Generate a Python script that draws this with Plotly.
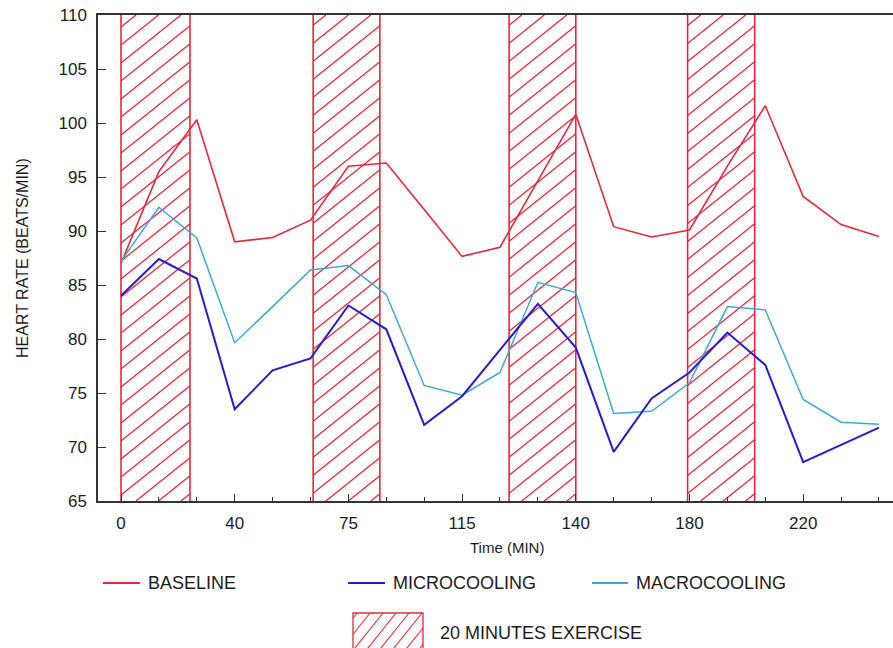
import plotly.graph_objects as go

# Measurement index along the time axis (one tick per reading)
idx = list(range(21))

# Labelled positions on the time axis
tick_idx = [0, 3, 6, 9, 12, 15, 18]
tick_text = ["0", "40", "75", "115", "140", "180", "220"]

# Heart rate (beats/min)
baseline = [87.0, 95.5, 100.3, 89.0, 89.4, 91.0, 96.0, 96.3, 92.0, 87.65, 88.5,
            94.6, 100.8, 90.4, 89.45, 90.1, 96.0, 101.6, 93.2, 90.6, 89.5]
microcooling = [84.0, 87.4, 85.6, 73.5, 77.1, 78.2, 83.1, 80.9, 72.05, 74.7, 79.0,
                83.25, 79.2, 69.55, 74.5, 76.9, 80.6, 77.6, 68.6, 70.2, 71.8]
macrocooling = [87.2, 92.2, 89.35, 79.65, 83.0, 86.4, 86.8, 84.1, 75.7, 74.8, 76.9,
                85.25, 84.3, 73.1, 73.3, 75.95, 83.0, 82.7, 74.4, 72.3, 72.1]

# 20-minute exercise periods (start / end on the index axis)
ex_start = [0.0, 5.07, 10.24, 14.95]
ex_end = [1.82, 6.83, 12.0, 16.72]

Y_MIN, Y_MAX = 65, 110
X_MIN, X_MAX = -0.607, 20.37

RED = "#e4283c"
BLUE = "#2a1cc8"
CYAN = "#3fa6d6"
INK = "#1c1c1c"
FONT = "Liberation Sans, Arial, sans-serif"

W, H = 893, 648
ML, MR, MT, MB = 98, 0, 15, 147
PW, PH = W - ML - MR, H - MT - MB


def px_to_paper(px, py):
    return (px - ML) / PW, (H - MB - py) / PH


# hatch slope and spacing in axis units (about 39 deg, 18 px apart vertically)
px_per_x = PW / (X_MAX - X_MIN)
px_per_y = PH / (Y_MAX - Y_MIN)
slope = 0.8 * px_per_x / px_per_y
gap = 18 / px_per_y

hx, hy = [], []
ex, ey = [], []
for x0, x1 in zip(ex_start, ex_end):
    ex += [x0, x0, None, x1, x1, None]
    ey += [Y_MIN, Y_MAX, None, Y_MIN, Y_MAX, None]
    c = Y_MIN - slope * (x1 - x0) + gap * 0.4
    while c < Y_MAX:
        xa = x0 if c >= Y_MIN else x0 + (Y_MIN - c) / slope
        ya = max(c, Y_MIN)
        xb = min(x1, x0 + (Y_MAX - c) / slope)
        yb = c + slope * (xb - x0)
        if xb > xa:
            hx += [xa, xb, None]
            hy += [ya, yb, None]
        c += gap

fig = go.Figure()
fig.add_trace(go.Scatter(x=hx, y=hy, mode="lines", line=dict(color=RED, width=1.3),
                         hoverinfo="skip", showlegend=False))
fig.add_trace(go.Scatter(x=ex, y=ey, mode="lines", line=dict(color=RED, width=1.6),
                         hoverinfo="skip", showlegend=False))
fig.add_trace(go.Scatter(x=idx, y=baseline, mode="lines", name="BASELINE",
                         line=dict(color=RED, width=1.6), showlegend=False))
fig.add_trace(go.Scatter(x=idx, y=macrocooling, mode="lines", name="MACROCOOLING",
                         line=dict(color=CYAN, width=1.5), showlegend=False))
fig.add_trace(go.Scatter(x=idx, y=microcooling, mode="lines", name="MICROCOOLING",
                         line=dict(color=BLUE, width=2), showlegend=False))

shapes = []
annotations = []

# legend: line samples and labels
legend_items = [("BASELINE", RED, 103, 140), ("MICROCOOLING", BLUE, 348, 385),
                ("MACROCOOLING", CYAN, 592, 628)]
for label, col, a, b in legend_items:
    xa, ya = px_to_paper(a, 583)
    xb, _ = px_to_paper(b, 583)
    shapes.append(dict(type="line", xref="paper", yref="paper", x0=xa, x1=xb, y0=ya, y1=ya,
                       line=dict(color=col, width=2)))
    xt, yt = px_to_paper(b + 6, 583)
    annotations.append(dict(text=label, xref="paper", yref="paper", x=xt, y=yt,
                            xanchor="left", yanchor="middle", showarrow=False,
                            font=dict(family=FONT, size=18, color=INK)))

# legend: hatched box for the exercise periods
bx0, by0, bx1, by1 = 353, 613, 423, 652
p0 = px_to_paper(bx0, by0)
p1 = px_to_paper(bx1, by1)
shapes.append(dict(type="rect", xref="paper", yref="paper", x0=p0[0], x1=p1[0],
                   y0=p1[1], y1=p0[1], line=dict(color=RED, width=1.3)))
k = 1.25  # steep hatch in the key box
off = bx0 - (by1 - by0) / k + 4
while off < bx1:
    sx, sy = off, by1
    if sx < bx0:
        sy = by1 - (bx0 - sx) * k
        sx = bx0
    tx = off + (by1 - by0) / k
    ty = by0
    if tx > bx1:
        ty = by1 - (bx1 - off) * k
        tx = bx1
    if tx > sx:
        a0 = px_to_paper(sx, sy)
        a1 = px_to_paper(tx, ty)
        shapes.append(dict(type="line", xref="paper", yref="paper", x0=a0[0], y0=a0[1],
                           x1=a1[0], y1=a1[1], line=dict(color=RED, width=1.1)))
    off += 13
xt, yt = px_to_paper(438, 633)
annotations.append(dict(text="20 MINUTES EXERCISE", xref="paper", yref="paper", x=xt, y=yt,
                        xanchor="left", yanchor="middle", showarrow=False,
                        font=dict(family=FONT, size=18, color=INK)))

# axis titles
xt, yt = px_to_paper(507, 547)
annotations.append(dict(text="Time (MIN)", xref="paper", yref="paper", x=xt, y=yt,
                        xanchor="center", yanchor="middle", showarrow=False,
                        font=dict(family=FONT, size=15, color=INK)))
xt, yt = px_to_paper(22, 258)
annotations.append(dict(text="HEART RATE (BEATS/MIN)", xref="paper", yref="paper", x=xt, y=yt,
                        xanchor="center", yanchor="middle", showarrow=False, textangle=-90,
                        font=dict(family=FONT, size=16, color=INK)))

fig.update_layout(
    width=W, height=H,
    margin=dict(l=ML, r=MR, t=MT, b=MB, pad=0),
    paper_bgcolor="white", plot_bgcolor="white",
    font=dict(family=FONT, color=INK),
    shapes=shapes, annotations=annotations,
    xaxis=dict(range=[X_MIN, X_MAX], tickmode="array", tickvals=tick_idx, ticktext=tick_text,
               ticks="inside", ticklen=7, tickwidth=1.3, tickcolor="#333",
               showline=True, linecolor="#333", linewidth=1.5, mirror=True,
               showgrid=False, zeroline=False, ticklabelstandoff=6,
               tickfont=dict(family=FONT, size=17, color=INK),
               minor=dict(tickmode="linear", tick0=0, dtick=1, ticks="inside", ticklen=4,
                          tickwidth=1.1, tickcolor="#333", showgrid=False)),
    yaxis=dict(range=[Y_MIN, Y_MAX], tickmode="array", tickvals=list(range(65, 111, 5)),
               ticks="inside", ticklen=8, tickwidth=1.3, tickcolor="#333",
               showline=True, linecolor="#333", linewidth=1.5,
               showgrid=False, zeroline=False, ticklabelstandoff=6,
               tickfont=dict(family=FONT, size=17, color=INK)),
)

fig.write_html("out.html")
